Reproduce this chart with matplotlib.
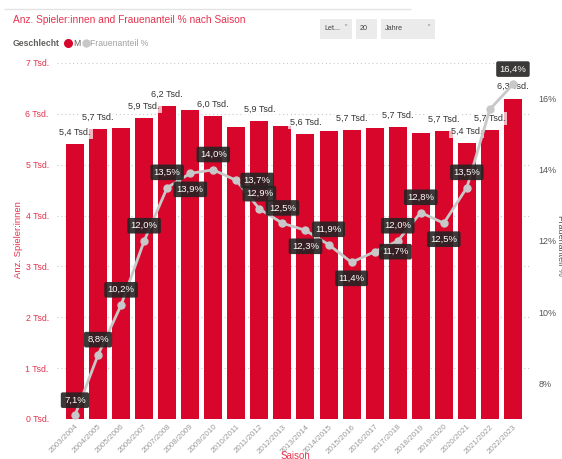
import matplotlib
matplotlib.use("Agg")
import matplotlib.pyplot as plt
from matplotlib.patches import Rectangle
from matplotlib.lines import Line2D

plt.rcParams['font.family'] = ['Liberation Sans', 'DejaVu Sans']

seasons = ["2003/2004", "2004/2005", "2005/2006", "2006/2007", "2007/2008",
           "2008/2009", "2009/2010", "2010/2011", "2011/2012", "2012/2013",
           "2013/2014", "2014/2015", "2015/2016", "2016/2017", "2017/2018",
           "2018/2019", "2019/2020", "2020/2021", "2021/2022", "2022/2023"]
players = [5400, 5700, 5720, 5910, 6160, 6070, 5960, 5740, 5860, 5760,
           5600, 5660, 5680, 5720, 5740, 5630, 5670, 5420, 5680, 6300]
female_share = [7.1, 8.8, 10.2, 12.0, 13.5, 13.9, 14.0, 13.7, 12.9, 12.5,
                12.3, 11.9, 11.4, 11.7, 12.0, 12.8, 12.5, 13.5, 15.7, 16.4]
bar_label_idx = [0, 1, 3, 4, 6, 8, 10, 12, 14, 16, 17, 18, 19]
# label placement for share labels: a=above, b=below, r=right, n=none
share_label_pos = ['a', 'a', 'a', 'a', 'a', 'b', 'a', 'r', 'a', 'a',
                   'b', 'a', 'b', 'r', 'a', 'a', 'b', 'a', 'n', 'a']
left_ticks = [0, 1000, 2000, 3000, 4000, 5000, 6000, 7000]
right_ticks = [8, 10, 12, 14, 16]

RED = '#D9062B'
TXTRED = '#E5344E'
GRAY = '#C8C8C8'

W, H = 562, 459
fig = plt.figure(figsize=(W / 100, H / 100), dpi=100)
fig.patch.set_facecolor('white')

def fx(px):
    return px / W

def fy(py):
    return 1 - py / H

ax = fig.add_axes([fx(57), fy(419), fx(530) - fx(57), fy(63) - fy(419)])
x = list(range(len(seasons)))
ax.bar(x, players, width=0.78, color=RED, zorder=2)
ax.set_xlim(-0.78, len(seasons) - 1 + 0.74)
ax.set_ylim(0, 7000)
ax.set_yticks(left_ticks)
ax.set_yticklabels([f"{v // 1000} Tsd." for v in left_ticks], color=TXTRED, fontsize=6.3)
ax.tick_params(axis='y', length=0, pad=6)
ax.set_xticks(x)
ax.set_xticklabels(seasons, rotation=45, ha='right', va='top', rotation_mode='anchor',
                   color='#9A9A9A', fontsize=5.8)
ax.tick_params(axis='x', length=0, pad=3)
ax.grid(axis='y', color=GRAY, linestyle=(0, (1, 2.5)), linewidth=0.8, zorder=0)
for s in ax.spines.values():
    s.set_visible(False)

for i in bar_label_idx:
    v = players[i]
    txt = f"{v / 1000:.1f}".replace('.', ',') + " Tsd."
    ax.annotate(txt, (i, v), xytext=(0, 8.5), textcoords='offset points',
                ha='center', va='center', fontsize=6.5, color='#333333', zorder=4,
                bbox=dict(boxstyle='square,pad=0.2', fc='white', ec='none', alpha=0.7))

ax2 = ax.twinx()
ax2.set_ylim(7.0, 17.0)
ax2.set_yticks(right_ticks)
ax2.set_yticklabels([f"{v}%" for v in right_ticks], color='#555555', fontsize=6.5)
ax2.tick_params(axis='y', length=0, pad=6)
for s in ax2.spines.values():
    s.set_visible(False)
ax2.plot(x, female_share, color=GRAY, lw=2, marker='o', markersize=5,
         markerfacecolor=GRAY, markeredgecolor=GRAY, zorder=3)

offsets = {'a': (0, 11), 'b': (0, -11.5), 'r': (15, 0)}
for i, (v, p) in enumerate(zip(female_share, share_label_pos)):
    if p == 'n':
        continue
    txt = f"{v:.1f}".replace('.', ',') + "%"
    ax2.annotate(txt, (i, v), xytext=offsets[p], textcoords='offset points',
                 ha='center', va='center', fontsize=6.8, color='white', zorder=5,
                 bbox=dict(boxstyle='round,pad=0.35,rounding_size=0.2', fc='#252423',
                           ec='none', alpha=0.9))

# axis titles
fig.text(fx(19), fy(240), "Anz. Spieler:innen", rotation=90, ha='center', va='center',
         color=TXTRED, fontsize=6.8)
fig.text(fx(561), fy(245), "Frauenanteil %", rotation=270, ha='center', va='center',
         color='#555555', fontsize=6.5)
fig.text(fx(295), fy(451), "Saison", ha='center', va='top', color=TXTRED, fontsize=7)

# title and legend
fig.text(fx(13), fy(20), "Anz. Spieler:innen and Frauenanteil % nach Saison",
         ha='left', va='center', color=TXTRED, fontsize=7.3)
fig.text(fx(13), fy(43), "Geschlecht", ha='left', va='center', color='#605E5C',
         fontsize=6.2, fontweight='bold')
fig.add_artist(Line2D([fx(68)], [fy(43)], marker='o', markersize=5.5, color=RED,
                      transform=fig.transFigure))
fig.text(fx(73.5), fy(43), "M", ha='left', va='center', color='#605E5C', fontsize=6.2)
fig.add_artist(Line2D([fx(86)], [fy(43)], marker='o', markersize=5, color=GRAY,
                      transform=fig.transFigure))
fig.text(fx(90.5), fy(43), "Frauenanteil %", ha='left', va='center', color='#A0A0A0',
         fontsize=6.2)

# slicer boxes
for (x0, x1, label, chevron) in [(320, 352, "Let...", True), (356, 377, "20", False),
                                 (381, 435, "Jahre", True)]:
    fig.add_artist(Rectangle((fx(x0), fy(39)), fx(x1) - fx(x0), fy(19) - fy(39),
                             transform=fig.transFigure, fc='#EBEBEB', ec='none'))
    fig.text(fx(x0 + 4), fy(29), label, ha='left', va='center', fontsize=5.2,
             color='#444444')
    if chevron:
        fig.text(fx(x1 - 7), fy(28), "\u02c5", ha='center', va='center', fontsize=6,
                 color='#888888', family=['DejaVu Sans'])

# frame line on top
fig.add_artist(Line2D([fx(5), fx(410)], [fy(9), fy(9)], color='#E3E3E3', lw=1,
                      transform=fig.transFigure))

fig.savefig("out.png", dpi=100, facecolor='white')
